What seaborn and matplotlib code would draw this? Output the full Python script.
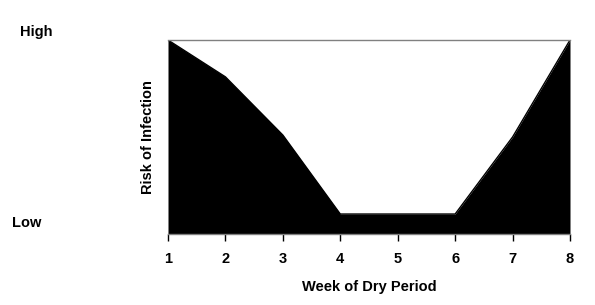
import matplotlib
matplotlib.use("Agg")
import matplotlib.pyplot as plt
import seaborn as sns
import pandas as pd

weeks = [1, 2, 3, 4, 5, 6, 7, 8]
risk = [10.0, 8.1, 5.1, 1.03, 1.03, 1.03, 5.0, 10.0]
x_label = "Week of Dry Period"
y_label = "Risk of Infection"
high_label = "High"
low_label = "Low"

sns.set_style("white")
plt.rcParams['font.family'] = ['Liberation Sans', 'DejaVu Sans']
plt.rcParams['text.color'] = 'black'
plt.rcParams['axes.labelcolor'] = 'black'
plt.rcParams['xtick.color'] = 'black'

df = pd.DataFrame({"week": weeks, "risk": risk})

fig = plt.figure(figsize=(5.95, 3.05), dpi=100)
ax = fig.add_axes([168/595, 71/305, 402/595, 194/305])
sns.lineplot(data=df, x="week", y="risk", ax=ax, color="black", linewidth=1)
ax.fill_between(df["week"], df["risk"], 0, color="black", linewidth=0)
ax.set_xlim(1, 8)
ax.set_ylim(0, 10)
ax.set_xticks(weeks)
ax.set_xticklabels([str(w) for w in weeks], fontsize=10.5, fontweight="bold", color="black")
ax.set_yticks([])
ax.tick_params(axis="x", length=5, width=1, color="black", direction="out", pad=8, bottom=True)
for s in ["left", "right"]:
    ax.spines[s].set_visible(False)
for s in ["top", "bottom"]:
    ax.spines[s].set_visible(True)
    ax.spines[s].set_color("#808080")
    ax.spines[s].set_linewidth(1)
ax.set_xlabel(x_label, fontsize=10.5, fontweight="bold", labelpad=10, color="black")
ax.set_ylabel(y_label, fontsize=10.5, fontweight="bold", labelpad=9, color="black")
fig.text(20/595, 1 - 32/305, high_label, fontsize=10.5, fontweight="bold", va="center", ha="left", color="black")
fig.text(12/595, 1 - 223/305, low_label, fontsize=10.5, fontweight="bold", va="center", ha="left", color="black")
fig.savefig("out.png", dpi=100)
